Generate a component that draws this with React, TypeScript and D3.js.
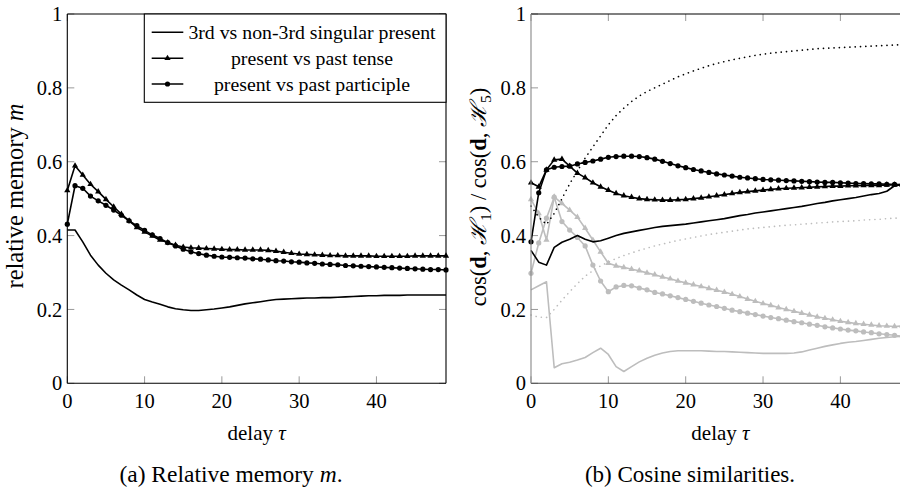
import React from 'react';
import * as d3 from 'd3';

// ---------- data ----------
const tau: number[] = d3.range(0, 50);

const xTicks = [0, 10, 20, 30, 40];
const yTicks = [0, 0.2, 0.4, 0.6, 0.8, 1];
const yTickLabels = ['0', '0.2', '0.4', '0.6', '0.8', '1'];

const legendLabels = [
  '3rd vs non-3rd singular present',
  'present vs past tense',
  'present vs past participle',
];

// (a) relative memory
const leftSolid = [
  0.415, 0.415, 0.383, 0.347, 0.32, 0.298, 0.28, 0.266, 0.253, 0.239,
  0.227, 0.22, 0.214, 0.207, 0.202, 0.199, 0.197, 0.197, 0.199, 0.201,
  0.204, 0.207, 0.211, 0.215, 0.218, 0.221, 0.224, 0.227, 0.228, 0.229,
  0.23, 0.231, 0.231, 0.232, 0.232, 0.233, 0.234, 0.235, 0.236, 0.237,
  0.237, 0.238, 0.238, 0.238, 0.239, 0.239, 0.239, 0.239, 0.239, 0.239,
];
const leftTri = [
  0.522, 0.589, 0.564, 0.539, 0.519, 0.498, 0.478, 0.458, 0.44, 0.422,
  0.41, 0.399, 0.388, 0.381, 0.374, 0.369, 0.367, 0.366, 0.365, 0.364,
  0.363, 0.362, 0.362, 0.361, 0.361, 0.361, 0.36, 0.358, 0.355, 0.352,
  0.35, 0.349, 0.348, 0.347, 0.346, 0.346, 0.345, 0.345, 0.345, 0.345,
  0.344, 0.344, 0.344, 0.344, 0.344, 0.345, 0.345, 0.345, 0.345, 0.345,
];
const leftCirc = [
  0.431, 0.535, 0.528, 0.507, 0.494, 0.482, 0.469, 0.455, 0.44, 0.427,
  0.414, 0.402, 0.392, 0.381, 0.372, 0.363, 0.356, 0.351, 0.347, 0.344,
  0.342, 0.341, 0.34, 0.339, 0.337, 0.336, 0.334, 0.332, 0.331, 0.329,
  0.328, 0.326, 0.325, 0.323, 0.322, 0.321, 0.319, 0.318, 0.317, 0.316,
  0.315, 0.314, 0.313, 0.312, 0.311, 0.31, 0.309, 0.308, 0.308, 0.307,
];

// (b) cosine similarities
const rightBlackSolid = [
  0.36, 0.328, 0.32, 0.368, 0.382, 0.39, 0.4, 0.39, 0.383, 0.386,
  0.393, 0.4, 0.406, 0.41, 0.414, 0.418, 0.422, 0.425, 0.427, 0.429,
  0.431, 0.434, 0.437, 0.44, 0.443, 0.446, 0.45, 0.454, 0.457, 0.461,
  0.464, 0.467, 0.47, 0.473, 0.476, 0.479, 0.483, 0.487, 0.49, 0.494,
  0.497, 0.5, 0.503, 0.507, 0.511, 0.514, 0.52, 0.535, 0.538, 0.538,
];
const rightBlackTri = [
  0.543, 0.532, 0.578, 0.605, 0.607, 0.588, 0.569, 0.557, 0.543, 0.532,
  0.523, 0.514, 0.508, 0.504, 0.5, 0.498, 0.497, 0.496, 0.496, 0.497,
  0.498, 0.5, 0.502, 0.505, 0.508, 0.511, 0.514, 0.517, 0.519, 0.521,
  0.523, 0.525, 0.527, 0.528, 0.529, 0.53, 0.531, 0.532, 0.533, 0.534,
  0.534, 0.535, 0.535, 0.536, 0.536, 0.536, 0.537, 0.537, 0.537, 0.537,
];
const rightBlackCirc = [
  0.383, 0.516, 0.578, 0.585, 0.587, 0.588, 0.594, 0.598, 0.602, 0.607,
  0.612, 0.614, 0.615, 0.615, 0.614, 0.611, 0.607, 0.601, 0.595, 0.589,
  0.584, 0.579, 0.575, 0.571, 0.567, 0.564, 0.561, 0.558, 0.556, 0.554,
  0.552, 0.551, 0.55, 0.549, 0.548, 0.547, 0.546, 0.545, 0.544, 0.544,
  0.543, 0.542, 0.541, 0.541, 0.54, 0.54, 0.539, 0.539, 0.538, 0.538,
];
const rightBlackDotted = [
  0.48, 0.45, 0.43, 0.46, 0.5, 0.54, 0.575, 0.61, 0.64, 0.67,
  0.7, 0.725, 0.745, 0.763, 0.778, 0.79, 0.8, 0.81, 0.82, 0.83,
  0.838, 0.846, 0.853, 0.86, 0.866, 0.871, 0.876, 0.88, 0.884, 0.888,
  0.891, 0.894, 0.896, 0.898, 0.9, 0.902, 0.904, 0.906, 0.907, 0.908,
  0.909, 0.91, 0.911, 0.912, 0.913, 0.914, 0.915, 0.916, 0.917, 0.918,
];
const rightGraySolid = [
  0.253, 0.264, 0.275, 0.042, 0.053, 0.057, 0.063, 0.07, 0.083, 0.095,
  0.078, 0.045, 0.032, 0.045, 0.058, 0.068, 0.076, 0.082, 0.086, 0.088,
  0.088, 0.088, 0.088, 0.087, 0.086, 0.086, 0.085, 0.084, 0.083, 0.082,
  0.081, 0.081, 0.081, 0.081, 0.082, 0.085, 0.09, 0.095, 0.1, 0.104,
  0.108, 0.111, 0.113, 0.116, 0.119, 0.122, 0.124, 0.126, 0.127, 0.128,
];
const rightGrayTri = [
  0.498, 0.46, 0.388, 0.505, 0.487, 0.469, 0.45, 0.42, 0.388, 0.356,
  0.325, 0.318, 0.314, 0.309, 0.305, 0.299, 0.294, 0.288, 0.283, 0.277,
  0.272, 0.267, 0.262, 0.257, 0.252, 0.247, 0.241, 0.235, 0.228, 0.222,
  0.216, 0.211, 0.205, 0.2, 0.195, 0.19, 0.185, 0.18, 0.176, 0.172,
  0.168, 0.165, 0.162, 0.16, 0.158, 0.156, 0.155, 0.154, 0.155, 0.156,
];
const rightGrayCirc = [
  0.298, 0.38, 0.447, 0.504, 0.438, 0.415, 0.395, 0.372, 0.32, 0.277,
  0.248, 0.261, 0.265, 0.264, 0.258, 0.253, 0.246, 0.242, 0.237, 0.232,
  0.227, 0.222, 0.217, 0.212, 0.208, 0.203, 0.198, 0.194, 0.19, 0.186,
  0.182, 0.178, 0.175, 0.171, 0.167, 0.164, 0.16, 0.157, 0.153, 0.15,
  0.147, 0.144, 0.142, 0.139, 0.137, 0.134, 0.132, 0.13, 0.127, 0.125,
];
const rightGrayDotted = [
  0.185, 0.179, 0.178, 0.2, 0.225, 0.248, 0.27, 0.29, 0.305, 0.318,
  0.328, 0.338, 0.346, 0.353, 0.36, 0.366, 0.372, 0.377, 0.382, 0.387,
  0.391, 0.395, 0.399, 0.403, 0.406, 0.409, 0.412, 0.415, 0.418, 0.42,
  0.422, 0.424, 0.426, 0.428, 0.429, 0.431, 0.432, 0.434, 0.435, 0.437,
  0.438, 0.439, 0.44, 0.442, 0.443, 0.444, 0.446, 0.447, 0.448, 0.449,
];

// ---------- styling ----------
const FONT = "'Liberation Serif', 'Times New Roman', serif";
const BLACK = '#000';
const GRAY = '#bdbdbd';
const TICKC = '#999';
const Y_TOP = 14;
const Y_BOT = 383.3;

type Marker = 'none' | 'circle' | 'triangle';
interface Series {
  values: number[];
  color: string;
  marker: Marker;
  dotted?: boolean;
}

const triPath = d3.symbol().type(d3.symbolTriangle).size(17)() as string;

function MarkerShape({ kind, x, y, color }: { kind: Marker; x: number; y: number; color: string }) {
  if (kind === 'circle') return <circle cx={x} cy={y} r={2.6} fill={color} />;
  if (kind === 'triangle') return <path d={triPath} transform={`translate(${x},${y})`} fill={color} />;
  return null;
}

function Panel({
  id,
  x0,
  x1,
  series,
  leftAxisColor,
}: {
  id: string;
  x0: number;
  x1: number;
  series: Series[];
  leftAxisColor: string;
}) {
  const x = d3.scaleLinear().domain([0, 49]).range([x0, x1]);
  const y = d3.scaleLinear().domain([0, 1]).range([Y_BOT, Y_TOP]);
  const line = d3
    .line<number>()
    .x((_, i) => x(tau[i]))
    .y((v) => y(v));
  const tl = 7;
  return (
    <g>
      <defs>
        <clipPath id={id}>
          <rect x={x0 - 4} y={Y_TOP - 4} width={x1 - x0 + 8} height={Y_BOT - Y_TOP + 8} />
        </clipPath>
      </defs>
      {/* ticks */}
      {yTicks.map((t) => (
        <g key={'y' + t}>
          <line x1={x0} x2={x0 + tl} y1={y(t)} y2={y(t)} stroke={TICKC} strokeWidth={1} />
          <line x1={x1} x2={x1 - tl} y1={y(t)} y2={y(t)} stroke={TICKC} strokeWidth={1} />
        </g>
      ))}
      {xTicks.map((t) => (
        <g key={'x' + t}>
          <line x1={x(t)} x2={x(t)} y1={Y_BOT} y2={Y_BOT - tl} stroke={TICKC} strokeWidth={1} />
          <line x1={x(t)} x2={x(t)} y1={Y_TOP} y2={Y_TOP + tl} stroke={TICKC} strokeWidth={1} />
        </g>
      ))}
      <g clipPath={`url(#${id})`}>
        {series.map((s, k) => (
          <g key={k}>
            <path
              d={line(s.values) as string}
              fill="none"
              stroke={s.color}
              strokeWidth={1.6}
              strokeDasharray={s.dotted ? '0.1 5.2' : undefined}
              strokeLinecap={s.dotted ? 'round' : 'butt'}
              strokeLinejoin="round"
            />
            {s.marker !== 'none' &&
              s.values.map((v, i) => (
                <MarkerShape key={i} kind={s.marker} x={x(tau[i])} y={y(v)} color={s.color} />
              ))}
          </g>
        ))}
      </g>
      {/* frame */}
      <line x1={x0} x2={x1} y1={Y_TOP} y2={Y_TOP} stroke={BLACK} strokeWidth={1.1} />
      <line x1={x0} x2={x1} y1={Y_BOT} y2={Y_BOT} stroke={leftAxisColor === BLACK ? BLACK : '#444'} strokeWidth={1.1} />
      <line x1={x1} x2={x1} y1={Y_TOP} y2={Y_BOT} stroke={BLACK} strokeWidth={1.1} />
      <line x1={x0} x2={x0} y1={Y_TOP} y2={Y_BOT} stroke={leftAxisColor} strokeWidth={1.1} />
      {/* tick labels */}
      {yTicks.map((t, i) => (
        <text key={'yl' + t} x={x0 - 5} y={y(t)} dy="0.35em" textAnchor="end" fontSize={20.5} fontFamily={FONT}>
          {yTickLabels[i]}
        </text>
      ))}
      {xTicks.map((t) => (
        <text key={'xl' + t} x={x(t)} y={407.5} textAnchor="middle" fontSize={20.5} fontFamily={FONT}>
          {t}
        </text>
      ))}
      <text x={(x0 + x1) / 2} y={440} textAnchor="middle" fontSize={21} fontFamily={FONT}>
        delay <tspan fontStyle="italic">τ</tspan>
      </text>
    </g>
  );
}

export default function App() {
  const leftSeries: Series[] = [
    { values: leftSolid, color: BLACK, marker: 'none' },
    { values: leftTri, color: BLACK, marker: 'triangle' },
    { values: leftCirc, color: BLACK, marker: 'circle' },
  ];
  const rightSeries: Series[] = [
    { values: rightGrayDotted, color: GRAY, marker: 'none', dotted: true },
    { values: rightGraySolid, color: GRAY, marker: 'none' },
    { values: rightGrayTri, color: GRAY, marker: 'triangle' },
    { values: rightGrayCirc, color: GRAY, marker: 'circle' },
    { values: rightBlackDotted, color: BLACK, marker: 'none', dotted: true },
    { values: rightBlackSolid, color: BLACK, marker: 'none' },
    { values: rightBlackTri, color: BLACK, marker: 'triangle' },
    { values: rightBlackCirc, color: BLACK, marker: 'circle' },
  ];
  const legendMarkers: Marker[] = ['none', 'triangle', 'circle'];
  const legendRows = [32.3, 58.3, 84];
  return (
    <svg
      width={900}
      height={488}
      style={{ position: 'absolute', left: 0, top: 0, background: '#fff' }}
      fontFamily={FONT}
    >
      <rect x={0} y={0} width={900} height={488} fill="#fff" />
      <Panel id="clipA" x0={67.3} x1={446} series={leftSeries} leftAxisColor={BLACK} />
      <Panel id="clipB" x0={531} x1={910} series={rightSeries} leftAxisColor="#888" />

      {/* legend */}
      <g>
        <rect x={144.3} y={14} width={301.7} height={88.3} fill="#fff" stroke={BLACK} strokeWidth={1.1} />
        {legendLabels.map((lab, i) => (
          <g key={lab}>
            <line x1={151.7} x2={183.3} y1={legendRows[i]} y2={legendRows[i]} stroke={BLACK} strokeWidth={1.6} />
            <MarkerShape kind={legendMarkers[i]} x={167.5} y={legendRows[i]} color={BLACK} />
            <text x={312} y={legendRows[i]} dy="0.33em" textAnchor="middle" fontSize={19.8} fontFamily={FONT}>
              {lab}
            </text>
          </g>
        ))}
      </g>

      {/* y labels */}
      <text transform="translate(23,196) rotate(-90)" textAnchor="middle" fontSize={24.5} fontFamily={FONT}>
        relative memory <tspan fontStyle="italic">m</tspan>
      </text>
      <text transform="translate(486,197) rotate(-90)" textAnchor="middle" fontSize={22.5} fontFamily={FONT}>
        cos(<tspan fontWeight="bold">d</tspan>, <tspan fontFamily="'DejaVu Serif', serif" fontStyle="italic">ℋ</tspan>
        <tspan dy={4.5} fontSize={15.5}>1</tspan>
        <tspan dy={-4.5}>) / cos(</tspan>
        <tspan fontWeight="bold">d</tspan>, <tspan fontFamily="'DejaVu Serif', serif" fontStyle="italic">ℋ</tspan>
        <tspan dy={4.5} fontSize={15.5}>5</tspan>
        <tspan dy={-4.5}>)</tspan>
      </text>

      {/* captions */}
      <text x={231} y={482} textAnchor="middle" fontSize={23.5} fontFamily={FONT}>
        (a) Relative memory <tspan fontStyle="italic">m</tspan>.
      </text>
      <text x={690} y={482} textAnchor="middle" fontSize={23} fontFamily={FONT}>
        (b) Cosine similarities.
      </text>
    </svg>
  );
}
